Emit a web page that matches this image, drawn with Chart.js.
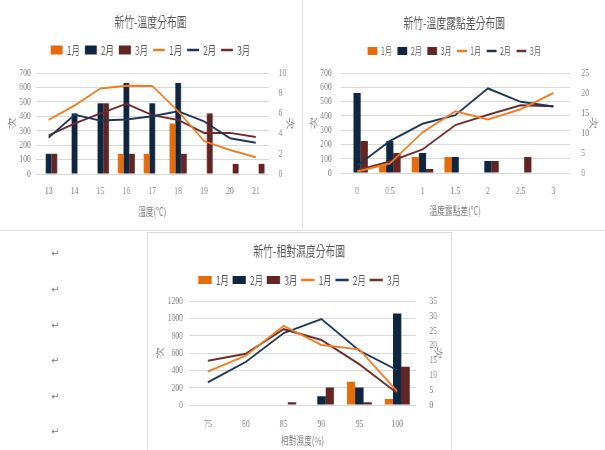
<!DOCTYPE html>
<html lang="zh-Hant">
<head>
<meta charset="utf-8">
<title>新竹氣象分布圖</title>
<script src="https://cdn.jsdelivr.net/npm/chart.js@4.4.1/dist/chart.umd.min.js"></script>
<style>
  html, body { margin: 0; padding: 0; background: #fff; }
  body { position: relative; width: 605px; height: 450px; overflow: hidden; }
  /* charts are laid out wide and squeezed horizontally */
  .panel { position: absolute; transform-origin: 0 0; transform: scaleX(0.7); }
  .rule { position: absolute; background: #dedede; }
  .frame { position: absolute; border: 1px solid #d9d9d9; pointer-events: none; }
  .mark { position: absolute; left: 51px; font: 10px "DejaVu Sans"; line-height: 12px; color: #7f7f7f; }
</style>
</head>
<body>
<div class="rule" style="left:302px;top:0;width:1px;height:229px"></div>
<div class="rule" style="left:0;top:230px;width:605px;height:1px"></div>

<div class="panel" style="left:0;top:0;width:430px;height:229px"><canvas id="tempChart"></canvas></div>
<div class="panel" style="left:303px;top:0;width:432px;height:229px"><canvas id="dewChart"></canvas></div>
<div class="panel" style="left:148px;top:233px;width:432px;height:217px"><canvas id="humChart"></canvas></div>
<div class="frame" style="left:147px;top:232px;width:303px;height:230px"></div>

<span class="mark" style="top:248px">↵</span>
<span class="mark" style="top:284px">↵</span>
<span class="mark" style="top:320px">↵</span>
<span class="mark" style="top:355px">↵</span>
<span class="mark" style="top:391px">↵</span>
<span class="mark" style="top:426px">↵</span>

<script>
const months = ["1月", "2月", "3月"];

// 溫度分布
const tempLabels = ["13", "14", "15", "16", "17", "18", "19", "20", "21"];
const tempBarJan = [0, 0, 0, 140, 140, 350, 0, 0, 0];
const tempBarFeb = [140, 420, 490, 630, 490, 630, 0, 0, 0];
const tempBarMar = [140, 0, 490, 140, 0, 140, 420, 70, 70];
const tempLineJan = [375, 475, 593, 612, 610, 435, 228, 167, 116];
const tempLineFeb = [252, 410, 370, 378, 400, 434, 365, 248, 217];
const tempLineMar = [268, 350, 420, 487, 408, 375, 285, 285, 257];
const tempLeftTicks = [0, 100, 200, 300, 400, 500, 600, 700];
const tempRightTicks = [0, 2, 4, 6, 8, 10];

// 溫度露點差分布
const dewLabels = ["0", "0.5", "1", "1.5", "2", "2.5", "3"];
const dewBarJan = [0, 56, 112, 112, 0, 0, 0];
const dewBarFeb = [560, 224, 140, 112, 84, 0, 0];
const dewBarMar = [224, 140, 28, 0, 84, 112, 0];
const dewLineJan = [10, 66, 285, 432, 375, 446, 560];
const dewLineFeb = [52, 224, 345, 405, 592, 498, 465];
const dewLineMar = [19, 80, 165, 335, 408, 474, 467];
const dewLeftTicks = [0, 100, 200, 300, 400, 500, 600, 700];
const dewRightTicks = [0, 5, 10, 15, 20, 25];

// 相對濕度分布
const humLabels = ["75", "80", "85", "90", "95", "100"];
const humBarJan = [0, 0, 0, 0, 268, 69];
const humBarFeb = [0, 0, 0, 100, 203, 1055];
const humBarMar = [0, 0, 31, 203, 31, 440];
const humLineJan = [386, 570, 913, 692, 642, 157];
const humLineFeb = [262, 498, 830, 992, 627, 402];
const humLineMar = [510, 592, 875, 750, 470, 137];
const humLeftTicks = [0, 200, 400, 600, 800, 1000, 1200];
const humRightTicks = [0, 5, 10, 15, 20, 25, 30, 35];

const BAR_COLORS = ["#E46C0A", "#10253F", "#632523"];
const LINE_COLORS = ["#EE7D22", "#1F3658", "#6E2C2C"];
const TEXT = "#7f7f7f";
const TICK_FONT = { family: '"Liberation Serif", serif', size: 11 };

Chart.defaults.font.family = '"Noto Sans CJK TC", "Noto Sans", sans-serif';

function axisRange(ticks) {
  return { min: ticks[0], max: ticks[ticks.length - 1], stepSize: ticks[1] - ticks[0] };
}

function buildChart(id, spec, L) {
  const left = axisRange(spec.leftTicks);
  const right = axisRange(spec.rightTicks);
  const datasets = [
    ...spec.bars.map((data, i) => ({
      type: "bar", label: months[i], data, yAxisID: "y", order: 2,
      backgroundColor: BAR_COLORS[i], borderWidth: 0,
      barPercentage: 1, categoryPercentage: 0.66,
    })),
    ...spec.lines.map((data, i) => ({
      type: "line", label: months[i], data, yAxisID: "y", order: 1,
      borderColor: LINE_COLORS[i], backgroundColor: LINE_COLORS[i],
      borderWidth: 2, pointRadius: 0, tension: 0,
    })),
  ];
  const yTitle = (pad) => ({ display: true, text: "次", color: TEXT, font: { size: 12 }, padding: { top: pad, bottom: 0 } });
  const yTicks = (step, pad) => ({ stepSize: step, autoSkip: false, color: TEXT, font: TICK_FONT, padding: pad, callback: (v) => String(v) });

  return new Chart(document.getElementById(id), {
    type: "bar",
    data: { labels: spec.labels, datasets },
    options: {
      responsive: true,
      maintainAspectRatio: false,
      animation: false,
      layout: { padding: 0 },
      plugins: {
        title: {
          display: true, text: spec.title, color: "#595959",
          font: { size: 14, weight: "normal" },
          padding: { top: L.titleTop, bottom: L.titleBottom },
        },
        // empty subtitle used as a spacer between legend and plot
        subtitle: { display: true, text: "", weight: 500, font: { size: 1, lineHeight: 1 }, padding: { top: L.gap - 1, bottom: 0 } },
        legend: {
          labels: {
            usePointStyle: true,
            pointStyleWidth: L.boxW,
            boxHeight: L.boxH,
            padding: L.legendPad,
            color: "#595959",
            font: { size: L.legendFont },
            sort: (a, b) => a.datasetIndex - b.datasetIndex,
            generateLabels(chart) {
              const items = Chart.defaults.plugins.legend.labels.generateLabels(chart);
              items.forEach((it) => {
                const ds = chart.data.datasets[it.datasetIndex];
                const isLine = ds.type === "line";
                it.pointStyle = isLine ? "line" : "rect";
                it.fillStyle = isLine ? ds.borderColor : ds.backgroundColor;
                it.strokeStyle = isLine ? ds.borderColor : ds.backgroundColor;
                it.lineWidth = isLine ? 2.5 : 0;
              });
              return items;
            },
          },
        },
        tooltip: { enabled: false },
      },
      scales: {
        x: {
          grid: { display: false },
          border: { display: false },
          ticks: { color: TEXT, font: TICK_FONT, padding: L.xTickPad, maxRotation: 0, autoSkip: false },
          title: { display: true, text: spec.xTitle, color: TEXT, font: { size: 11 }, padding: { top: 0, bottom: L.xTitlePad } },
          afterFit: (s) => { s.height = L.bottom; },
        },
        y: {
          position: "left",
          min: left.min, max: left.max,
          ticks: yTicks(left.stepSize, L.yTickPadL),
          grid: { color: "#d9d9d9", drawTicks: false },
          border: { display: false },
          title: yTitle(L.yTitlePadL),
          afterFit: (s) => { s.width = L.left; },
        },
        y1: {
          position: "right",
          min: right.min, max: right.max,
          ticks: yTicks(right.stepSize, L.yTickPadR),
          grid: { display: false },
          border: { display: false },
          title: yTitle(L.yTitlePadR),
          afterFit: (s) => { s.width = L.right; },
        },
      },
    },
  });
}

buildChart("tempChart", {
  title: "新竹-溫度分布圖", xTitle: "溫度(℃)", labels: tempLabels,
  bars: [tempBarJan, tempBarFeb, tempBarMar],
  lines: [tempLineJan, tempLineFeb, tempLineMar],
  leftTicks: tempLeftTicks, rightTicks: tempRightTicks,
}, {
  left: 51, right: 46, bottom: 55, titleTop: 13.6, titleBottom: 6.6, gap: 7,
  boxW: 17, boxH: 9, legendFont: 12, legendPad: 7,
  xTickPad: 3, xTitlePad: 10.4, yTickPadL: 7, yTickPadR: 6, yTitlePadL: 10, yTitlePadR: 8.5,
});

buildChart("dewChart", {
  title: "新竹-溫度露點差分布圖", xTitle: "溫度露點差(℃)", labels: dewLabels,
  bars: [dewBarJan, dewBarFeb, dewBarMar],
  lines: [dewLineJan, dewLineFeb, dewLineMar],
  leftTicks: dewLeftTicks, rightTicks: dewRightTicks,
}, {
  left: 54, right: 51, bottom: 56, titleTop: 14.6, titleBottom: 6.6, gap: 7,
  boxW: 14, boxH: 8, legendFont: 10, legendPad: 8,
  xTickPad: 4, xTitlePad: 11.4, yTickPadL: 13, yTickPadR: 8.5, yTitlePadL: 8.5, yTitlePadR: 10,
});

buildChart("humChart", {
  title: "新竹-相對濕度分布圖", xTitle: "相對濕度(%)", labels: humLabels,
  bars: [humBarJan, humBarFeb, humBarMar],
  lines: [humLineJan, humLineFeb, humLineMar],
  leftTicks: humLeftTicks, rightTicks: humRightTicks,
}, {
  left: 58.6, right: 49, bottom: 45, titleTop: 9.6, titleBottom: 9.3, gap: 5,
  boxW: 19, boxH: 8, legendFont: 12, legendPad: 5.3,
  xTickPad: 5, xTitlePad: 2.4, yTickPadL: 8.5, yTickPadR: 11, yTitlePadL: 10, yTitlePadR: 10,
});
</script>
</body>
</html>
